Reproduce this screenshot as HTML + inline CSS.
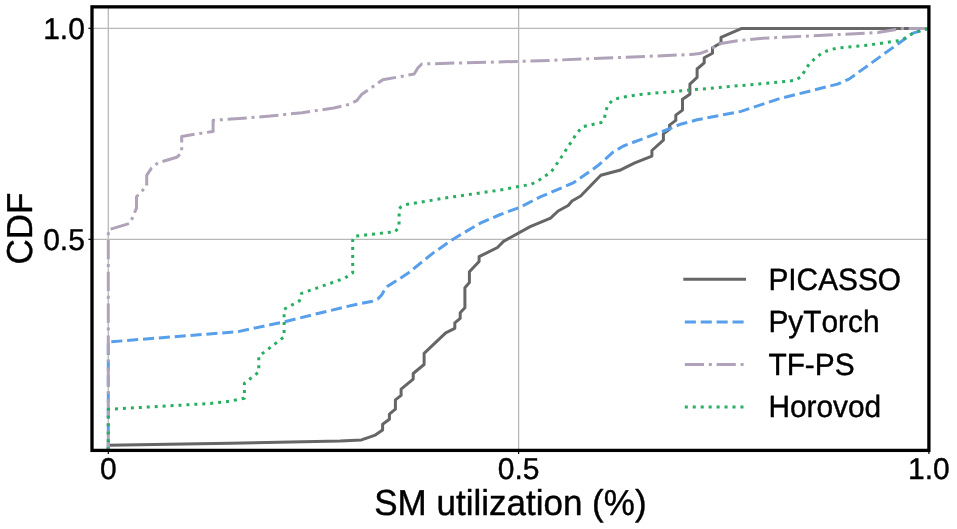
<!DOCTYPE html>
<html><head><meta charset="utf-8"><title>SM utilization CDF</title>
<style>html,body{margin:0;padding:0;background:#fff;}body{width:957px;height:529px;position:relative;overflow:hidden;}</style>
</head><body>
<svg width="957" height="529" viewBox="0 0 957 529" style="position:absolute;left:0;top:0">
<defs><clipPath id="ax"><rect x="92.0" y="6.85" width="836.9" height="443.54999999999995"/></clipPath></defs>
<rect x="0" y="0" width="957" height="529" fill="#ffffff"/>
<g stroke="#b8b8b8" stroke-width="1.3" fill="none">
<line x1="108.3" y1="6.85" x2="108.3" y2="450.4"/>
<line x1="518.6" y1="6.85" x2="518.6" y2="450.4"/>
<line x1="92.0" y1="28.3" x2="928.9" y2="28.3"/>
<line x1="92.0" y1="239.3" x2="928.9" y2="239.3"/>
</g>
<g clip-path="url(#ax)" fill="none" stroke-width="3.0" stroke-linejoin="round">
<polyline points="108.3,450.3 108.3,445.2 230.0,443.2 340.0,441.0 361.5,439.9 375.3,435.1 382.6,430.1 382.6,424.3 389.4,419.3 389.4,414.2 395.4,409.2 395.4,399.9 401.1,395.4 401.1,389.1 413.2,379.1 413.2,373.5 424.1,364.5 424.1,353.4 445.7,332.9 454.8,328.3 454.8,322.8 460.2,318.3 460.2,312.7 464.9,307.7 464.9,287.7 469.4,282.6 469.4,271.8 479.1,261.4 479.1,256.7 497.5,247.5 503.5,241.4 530.2,226.6 550.6,218.1 558.1,211.0 568.2,205.5 572.0,201.0 580.7,196.0 600.8,175.3 619.7,170.3 634.8,162.8 651.9,156.1 651.9,150.5 663.4,140.2 663.4,133.8 669.5,129.3 669.5,125.1 675.8,120.4 675.8,115.1 682.5,110.1 682.5,99.2 689.9,94.2 689.9,84.1 697.1,77.4 697.1,69.0 704.2,62.8 704.2,57.8 712.5,53.2 712.5,47.7 721.0,42.7 721.0,37.4 741.8,28.4 928.9,28.4" stroke="#666666" stroke-linecap="square"/>
<polyline points="108.3,450.3 108.3,342.0 238.3,331.6 283.5,322.0 320.0,313.0 352.5,305.2 372.4,301.2 377.6,299.1 381.8,294.9 383.6,291.5 387.0,286.6 396.4,280.8 409.0,272.5 420.5,263.1 433.0,253.1 452.7,239.5 471.5,228.2 480.3,223.2 500.3,214.5 519.2,207.6 540.3,196.9 573.8,182.6 598.0,165.6 613.4,151.9 623.5,146.0 663.6,131.0 680.3,124.3 697.1,119.8 741.0,111.4 780.0,98.5 837.6,84.1 849.0,79.1 913.0,33.1 928.9,28.3" stroke="#579fea" stroke-dasharray="11.10 4.80"/>
<polyline points="108.3,450.3 108.3,229.8 130.2,223.2 136.5,208.1 136.5,196.8 146.7,186.0 146.7,175.4 151.6,167.9 157.9,162.8 176.7,157.3 181.7,152.8 181.7,136.4 213.1,131.4 213.1,120.3 239.3,118.5 270.2,116.0 302.0,112.7 333.8,108.0 349.7,104.3 356.8,100.6 361.5,94.6 382.8,79.8 414.2,74.0 418.0,67.8 421.8,64.0 540.0,60.8 691.3,54.5 699.7,53.6 707.0,50.8 721.0,43.4 737.3,40.7 760.0,38.4 877.8,32.6 903.0,28.4 928.9,28.4" stroke="#b0a3b9" stroke-dasharray="19.20 4.80 3.00 4.80" stroke-dashoffset="-0.3"/>
<polyline points="108.3,450.3 108.3,409.3 178.6,405.3 210.4,403.4 230.0,401.2 244.4,398.2 244.4,383.2 258.8,372.0 258.8,356.3 284.1,336.8 284.1,309.3 299.4,300.9 301.5,293.4 330.0,283.4 345.1,277.9 352.7,272.8 352.7,240.2 354.4,236.3 395.4,231.6 399.0,226.8 399.2,209.5 400.4,207.3 405.4,204.7 443.8,198.2 500.3,190.0 515.3,187.2 531.1,184.3 537.8,181.0 551.2,171.8 559.6,159.8 577.0,133.0 582.5,126.8 601.0,122.6 604.3,119.5 605.5,112.0 608.0,104.8 613.1,99.7 620.8,97.5 640.5,94.4 780.0,82.1 795.5,80.3 801.8,76.2 805.1,70.1 809.6,63.4 815.5,58.1 821.8,53.1 828.9,50.1 836.9,48.1 867.8,45.2 901.7,40.2 913.0,33.1 928.9,28.3" stroke="#27ae60" stroke-dasharray="3.00 4.95"/>
</g>
<g stroke="#000" stroke-width="1.2">
<line x1="108.3" y1="450.4" x2="108.3" y2="454.0"/>
<line x1="518.6" y1="450.4" x2="518.6" y2="454.0"/>
<line x1="928.9" y1="450.4" x2="928.9" y2="454.0"/>
<line x1="92.0" y1="28.3" x2="88.4" y2="28.3"/>
<line x1="92.0" y1="239.3" x2="88.4" y2="239.3"/>
</g>
<rect x="92.0" y="6.85" width="836.9" height="443.54999999999995" fill="none" stroke="#000" stroke-width="3.3"/>
<g fill="none" stroke-width="3.0">
<line x1="684.8" y1="279.3" x2="744.5" y2="279.3" stroke="#666666" stroke-linecap="square"/>
<line x1="684.8" y1="322.0" x2="744.5" y2="322.0" stroke="#579fea" stroke-dasharray="11.10 4.80"/>
<line x1="684.8" y1="364.4" x2="744.5" y2="364.4" stroke="#b0a3b9" stroke-dasharray="19.20 4.80 3.00 4.80"/>
<line x1="684.8" y1="407.0" x2="744.5" y2="407.0" stroke="#27ae60" stroke-dasharray="3.00 4.95"/>
</g>
<g font-family="'Liberation Sans', Arial, Helvetica, sans-serif" style="font-kerning:none" text-rendering="geometricPrecision" fill="#000" stroke="#000" stroke-width="0.4" stroke-linejoin="round">
<g font-size="29.85px">
<text transform="translate(768.4 289.7) scale(1 1.03)" text-anchor="start">PICASSO</text>
<text transform="translate(768.4 332.4) scale(1 1.03)" text-anchor="start">PyTorch</text>
<text transform="translate(768.4 374.8) scale(1 1.03)" text-anchor="start">TF-PS</text>
<text transform="translate(768.4 417.3) scale(1 1.03)" text-anchor="start">Horovod</text>
</g>
<g font-size="30px">
<text transform="translate(84.9 38.8) scale(1 1.0)" text-anchor="end">1.0</text>
<text transform="translate(84.9 249.8) scale(1 1.0)" text-anchor="end">0.5</text>
<text transform="translate(108.3 478.5) scale(1 1.0)" text-anchor="middle">0</text>
<text transform="translate(518.6 478.5) scale(1 1.0)" text-anchor="middle">0.5</text>
<text transform="translate(928.9 478.5) scale(1 1.0)" text-anchor="middle">1.0</text>
</g>
<g font-size="35px">
<text transform="translate(510.4 514.6) scale(1 1.03)" text-anchor="middle">SM utilization (%)</text>
<text transform="translate(32.4 228.6) rotate(-90) scale(1 1.03)" text-anchor="middle">CDF</text>
</g>
</g>
</svg>
</body></html>
